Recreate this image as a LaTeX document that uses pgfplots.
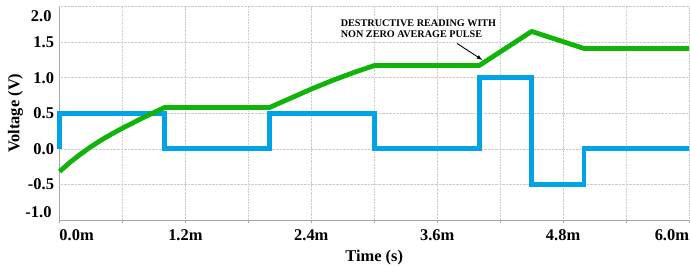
\documentclass[border=0pt]{standalone}
\usepackage{pgfplots}
\pgfplotsset{compat=1.18}
\usepackage{fontspec}
\setmainfont{Liberation Serif}
\usetikzlibrary{calc}
\definecolor{cblue}{RGB}{0,162,232}
\definecolor{cgreen}{RGB}{16,180,8}
\begin{document}
\begin{tikzpicture}
\begin{axis}[
  name=ax,
  scale only axis,
  width=629.5bp, height=213.5bp,
  xmin=0, xmax=6, ymin=-1, ymax=2,
  axis lines*=left,
  axis line style={gray!70, line width=0.8pt},
  xtick={0,1.2,2.4,3.6,4.8,6.0},
  xticklabels={\makebox[0pt][l]{0.0m},1.2m,2.4m,3.6m,4.8m,\makebox[0pt][r]{6.0m}},
  minor xtick={0.6,1.8,3.0,4.2,5.4},
  ytick={-1,-0.5,0,0.5,1,1.5,2},
  yticklabels={,-0.5,0.0,0.5,1.0,1.5,},
  grid=both,
  grid style={densely dotted, gray!40, line width=0.6pt},
  minor grid style={densely dotted, gray!40, line width=0.6pt},
  tick style={gray!70},
  major tick length=3bp, minor tick length=3bp,
  tick align=outside,
  ytick style={draw=none},
  /pgf/number format/assume math mode=true,
  tick label style={font=\fontsize{16.5}{16.5}\selectfont\bfseries},
  xticklabel style={yshift=-3bp},
  yticklabel style={xshift=1bp},
  xlabel={\textbf{Time (s)}},
  ylabel={\textbf{Voltage (V)}},
  label style={font=\fontsize{16.5}{16.5}\selectfont\bfseries},
  xlabel style={yshift=-3bp},
  ylabel style={yshift=-2bp},
  clip=false,
]
\addplot[cblue, line width=4.8bp, line join=miter] coordinates {
  (0,0) (0,0.5) (1.0,0.5) (1.0,0) (2.0,0) (2.0,0.5) (3.0,0.5) (3.0,0)
  (4.0,0) (4.0,1.0) (4.5,1.0) (4.5,-0.5) (5.0,-0.5) (5.0,0) (6.0,0)
};
\addplot[cgreen, line width=4.8bp, line join=round] coordinates {
  (0,-0.32) (0.1,-0.19) (0.2,-0.075) (0.3,0.03) (0.4,0.125) (0.5,0.21)
  (0.6,0.29) (0.7,0.365) (0.8,0.44) (0.9,0.51) (1.0,0.58)
  (2.0,0.58) (2.2,0.71) (2.4,0.84) (2.6,0.96) (2.8,1.07) (3.0,1.17)
  (4.0,1.17) (4.5,1.65) (5.0,1.41) (6.0,1.41)
};
\node[anchor=east, font=\fontsize{16.5}{16.5}\selectfont\bfseries, xshift=-4.5bp, yshift=8bp] at (axis cs:0,-1) {-1.0};
\node[anchor=east, font=\fontsize{16.5}{16.5}\selectfont\bfseries, xshift=-4.5bp, yshift=-9.5bp] at (axis cs:0,2) {2.0};
\node[anchor=west, align=left, font=\fontsize{10.2}{11.2}\selectfont\bfseries, inner sep=0pt]
  at (axis cs:2.68,1.685) {DESTRUCTIVE READING WITH\\NON ZERO AVERAGE PULSE};
\draw[-latex, line width=0.9pt] (axis cs:3.79,1.48) -- (axis cs:4.03,1.25);
\end{axis}
\pgfresetboundingbox
\path ($(ax.south west)+(-59.5bp,-48bp)$) rectangle ($(ax.north east)+(1bp,6.5bp)$);
\end{tikzpicture}
\end{document}
